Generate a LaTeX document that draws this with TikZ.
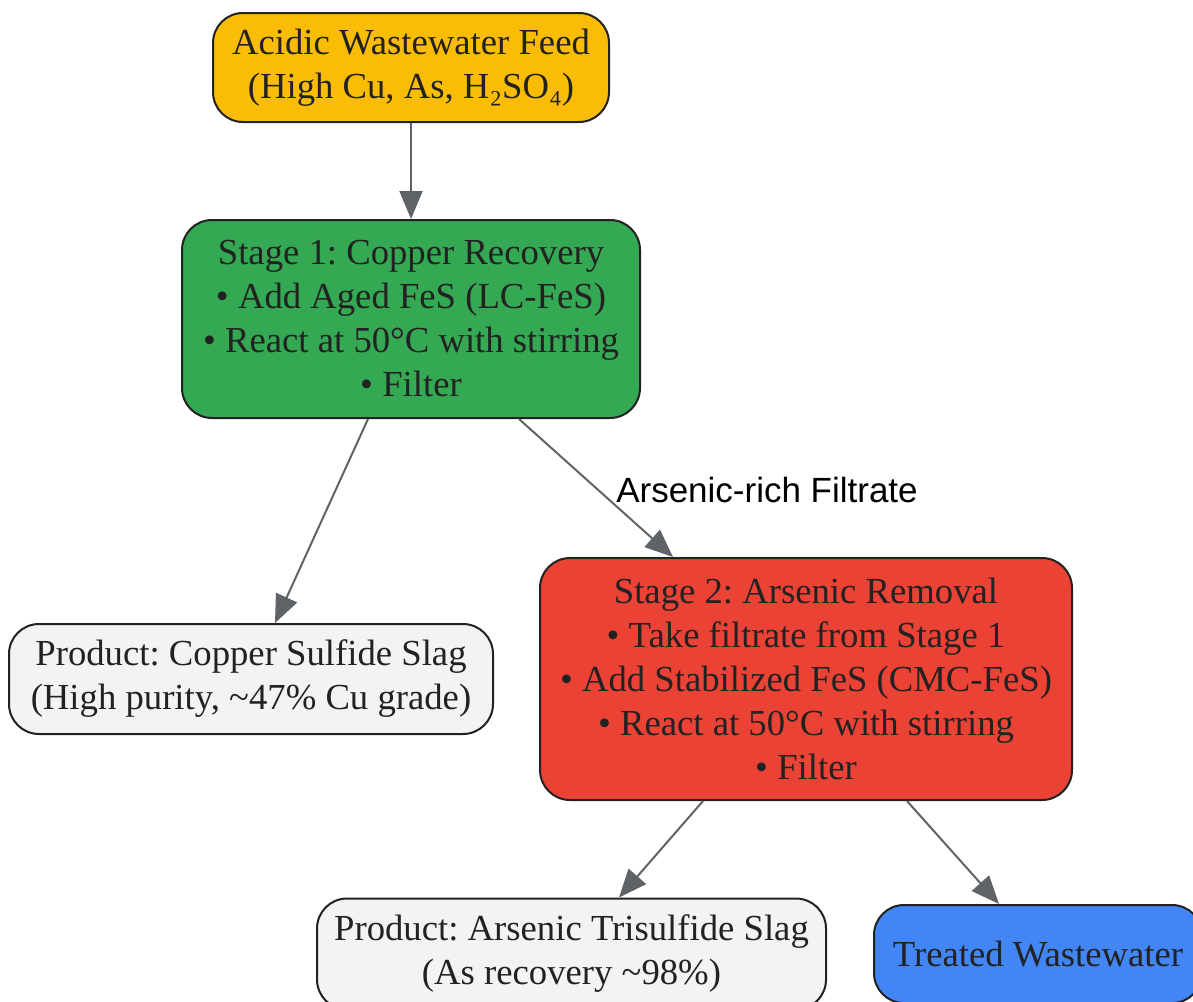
\documentclass[tikz,border=0pt]{standalone}
\usepackage{fontspec}
\setmainfont{Liberation Serif}
\newfontfamily\labelfont{Liberation Sans}
\usetikzlibrary{arrows.meta,calc}
\definecolor{feedc}{HTML}{FBBC05}
\definecolor{stageone}{HTML}{34A853}
\definecolor{stagetwo}{HTML}{EA4335}
\definecolor{prodc}{HTML}{F1F3F4}
\definecolor{treatc}{HTML}{4285F4}
\definecolor{edgec}{HTML}{5F6368}
\definecolor{txtc}{HTML}{222222}
\frenchspacing
\tikzset{
  box/.style={draw=txtc, line width=2pt, rounded corners=30pt, align=center,
    text=txtc, inner sep=0pt, font=\fontsize{36.7}{44}\selectfont},
  flow/.style={draw=edgec, line width=2pt, -{Triangle[length=28pt,width=23pt]}},
  elabel/.style={font=\labelfont\fontsize{35}{42}\selectfont, text=black, inner sep=0pt}
}
\begin{document}
\begin{tikzpicture}[x=1pt,y=-1pt]
\useasboundingbox (0,0) rectangle (1193,1001);
\clip (0,0) rectangle (1193,1001);
\node[box, fill=feedc, minimum width=396pt, minimum height=109pt] (feed) at (411,67.5)
  {Acidic Wastewater Feed\\(High Cu, As, H₂SO₄)};
\node[box, fill=stageone, minimum width=458pt, minimum height=198pt] (s1) at (411,319)
  {Stage 1: Copper Recovery\\• Add Aged FeS (LC-FeS)\\• React at 50°C with stirring\\• Filter};
\node[box, fill=prodc, minimum width=484pt, minimum height=110pt] (cu) at (251,679)
  {Product: Copper Sulfide Slag\\(High purity, \textasciitilde47\% Cu grade)};
\node[box, fill=stagetwo, minimum width=532pt, minimum height=242pt] (s2) at (806,679)
  {Stage 2: Arsenic Removal\\• Take filtrate from Stage 1\\• Add Stabilized FeS (CMC-FeS)\\• React at 50°C with stirring\\• Filter};
\node[box, fill=prodc, minimum width=509pt, minimum height=111pt] (as) at (571.5,954)
  {Product: Arsenic Trisulfide Slag\\(As recovery \textasciitilde98\%)};
\node[box, fill=treatc, minimum width=328pt, minimum height=98pt] (tw) at (1038,954)
  {Treated Wastewater};
\draw[flow] (feed.south) -- (s1.north);
\draw[flow] ($(s1.south)+(-43,0)$) -- ($(cu.north)+(24,0)$);
\draw[flow] ($(s1.south)+(108,0)$) -- ($(s2.north)+(-133,0)$);
\node[elabel] (lab) at (767,490) {Arsenic-rich Filtrate};
\draw[flow] ($(s2.south)+(-103,0)$) -- ($(as.north)+(47.5,0)$);
\draw[flow] ($(s2.south)+(101,0)$) -- ($(tw.north)+(-39,0)$);
\end{tikzpicture}
\end{document}
